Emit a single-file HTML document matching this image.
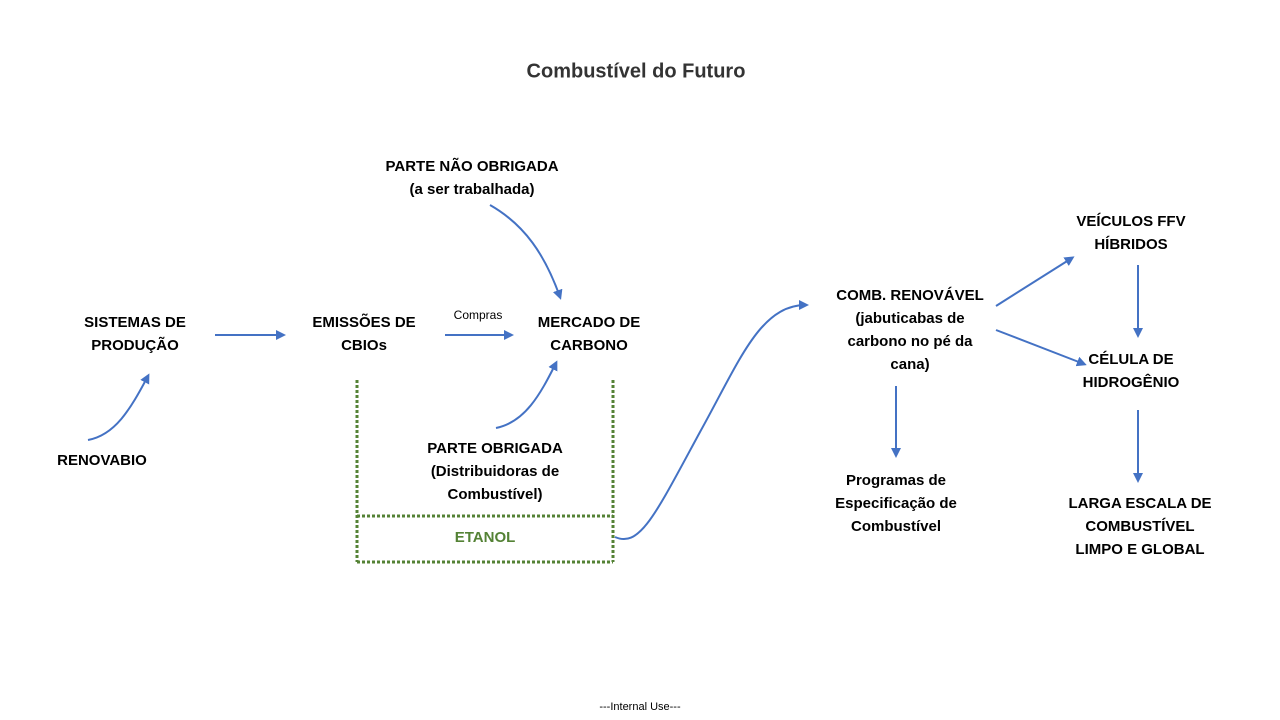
<!DOCTYPE html>
<html><head><meta charset="utf-8"><style>
html,body{margin:0;padding:0;background:#fff}
svg{display:block}
text{font-family:"Liberation Sans",Arial,sans-serif;font-weight:bold;font-size:15px;fill:#000;text-anchor:middle;dominant-baseline:middle}
</style></head><body>
<svg width="1280" height="720" viewBox="0 0 1280 720" xmlns="http://www.w3.org/2000/svg">
<defs><marker id="a" markerWidth="10" markerHeight="10" refX="7" refY="5" orient="auto" markerUnits="userSpaceOnUse"><path d="M0,0 L10,5 L0,10 z" fill="#4472C4"/></marker></defs>
<text x="636" y="72" style="font-size:20px;fill:#333">Combustível do Futuro</text>
<g fill="none" stroke="#4472C4" stroke-width="2" marker-end="url(#a)">
<line x1="215" y1="335" x2="283" y2="335"/>
<line x1="445" y1="335" x2="511" y2="335"/>
<path d="M490,205 C525,225 545,255 560,297"/>
<path d="M88,440 C115,435 130,410 148,376"/>
<path d="M496,428 C525,422 540,395 556,363"/>
<path d="M615,537 C640,548 655,515 700,432 C740,360 760,305 806,305"/>
<line x1="896" y1="386" x2="896" y2="455"/>
<line x1="996" y1="306" x2="1072" y2="258"/>
<line x1="996" y1="330" x2="1084" y2="364"/>
<line x1="1138" y1="265" x2="1138" y2="335"/>
<line x1="1138" y1="410" x2="1138" y2="480"/>
</g>
<g stroke="#548235" stroke-width="3" stroke-dasharray="3,2" fill="none">
<line x1="357" y1="380" x2="357" y2="562"/>
<line x1="613" y1="380" x2="613" y2="562"/>
<line x1="357" y1="516" x2="613" y2="516"/>
<line x1="357" y1="562" x2="613" y2="562"/>
</g>
<text x="135" y="323">SISTEMAS DE</text><text x="135" y="346">PRODUÇÃO</text>
<text x="364" y="323">EMISSÕES DE</text><text x="364" y="346">CBIOs</text>
<text x="478" y="316" style="font-size:12px;font-weight:normal">Compras</text>
<text x="589" y="323">MERCADO DE</text><text x="589" y="346">CARBONO</text>
<text x="472" y="167">PARTE NÃO OBRIGADA</text><text x="472" y="190">(a ser trabalhada)</text>
<text x="102" y="461">RENOVABIO</text>
<text x="495" y="449">PARTE OBRIGADA</text><text x="495" y="472">(Distribuidoras de</text><text x="495" y="495">Combustível)</text>
<text x="485" y="538" style="fill:#548235">ETANOL</text>
<text x="910" y="296">COMB. RENOVÁVEL</text><text x="910" y="319">(jabuticabas de</text><text x="910" y="342">carbono no pé da</text><text x="910" y="365">cana)</text>
<text x="896" y="481">Programas de</text><text x="896" y="504">Especificação de</text><text x="896" y="527">Combustível</text>
<text x="1131" y="222">VEÍCULOS FFV</text><text x="1131" y="245">HÍBRIDOS</text>
<text x="1131" y="360">CÉLULA DE</text><text x="1131" y="383">HIDROGÊNIO</text>
<text x="1140" y="504">LARGA ESCALA DE</text><text x="1140" y="527">COMBUSTÍVEL</text><text x="1140" y="550">LIMPO E GLOBAL</text>
<text x="640" y="707" style="font-size:11px;font-weight:normal">---Internal  Use---</text>
</svg>
</body></html>
